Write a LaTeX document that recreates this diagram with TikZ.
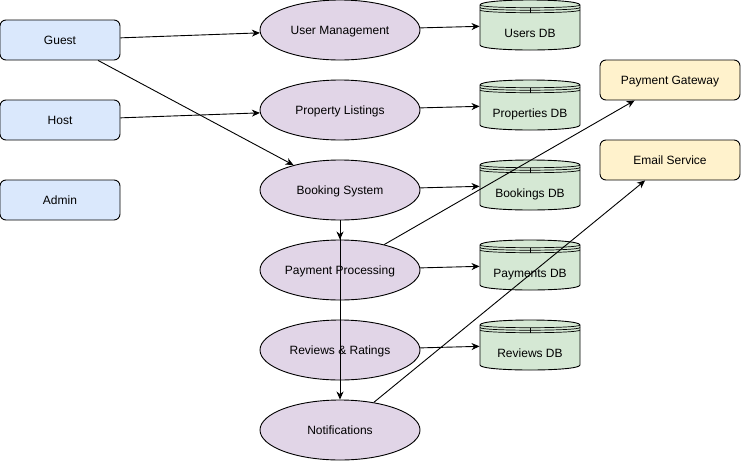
\documentclass[tikz,border=0pt]{standalone}
\usepackage{fontspec}
\setmainfont{Liberation Sans}
\usetikzlibrary{arrows.meta,shapes.geometric}

\definecolor{userblue}{HTML}{DAE8FC}
\definecolor{servicepurple}{HTML}{E1D5E7}
\definecolor{dbgreen}{HTML}{D5E8D4}
\definecolor{extyellow}{HTML}{FFF2CC}

% cylinder with a banded top: name, left, top, text
\newcommand{\datastore}[4]{%
	\begin{scope}[shift={(#2,-#3)}]
		\filldraw[dbshape] (0,-5) .. controls (0,5/3) and (100,5/3) .. (100,-5)
			-- (100,-45) .. controls (100,-51.67) and (0,-51.67) .. (0,-45) -- cycle;
		\draw[dbband] (0,-5) .. controls (0,-8.6) and (100,-8.6) .. (100,-5);
		\draw[dbband] (0,-7.5) .. controls (0,-11.1) and (100,-11.1) .. (100,-7.5);
		\draw[dbband] (0,-10) .. controls (0,-13.6) and (100,-13.6) .. (100,-10);
		\draw[dbband] (50,-7.7) -- (50,-12.7);
	\end{scope}
	\node [dbnode,label={[yshift=-8pt]center:#4}] (#1) at (#2+50,-#3-25) {};
}

\begin{document}
\begin{tikzpicture}[x=1pt, y=1pt, line width=0.9pt,
		font=\fontsize{12}{14}\selectfont,
		every node/.style={text depth=0pt},
		user/.style={rectangle,rounded corners=6pt,draw,fill=userblue,minimum width=120pt,minimum height=40pt,inner sep=0pt},
		service/.style={ellipse,draw,fill=servicepurple,minimum width=160pt,minimum height=60pt,inner sep=0pt,text depth=-1.5pt},
		external/.style={rectangle,rounded corners=6pt,draw,fill=extyellow,minimum width=140pt,minimum height=40pt,inner sep=0pt},
		dbshape/.style={draw,fill=dbgreen},
		dbband/.style={line width=0.7pt},
		dbnode/.style={rectangle,minimum width=100pt,minimum height=50pt,inner sep=0pt},
		flow/.style={-{Stealth[length=8pt,width=7pt,inset=2.5pt]}}
		]
	\useasboundingbox (0,0) rectangle (741,-461);

	\node [user] (guest) at (60,-40) {Guest};
	\node [user] (host) at (60,-120) {Host};
	\node [user] (admin) at (60,-200) {Admin};

	\node [service] (um) at (340,-30) {User Management};
	\node [service] (pl) at (340,-110) {Property Listings};
	\node [service] (bs) at (340,-190) {Booking System};
	\node [service] (pp) at (340,-270) {Payment Processing};
	\node [service] (rr) at (340,-350) {Reviews \& Ratings};
	\node [service] (nt) at (340,-430) {Notifications};

	\datastore{usersdb}{480}{0}{Users DB}
	\datastore{propertiesdb}{480}{80}{Properties DB}
	\datastore{bookingsdb}{480}{160}{Bookings DB}
	\datastore{paymentsdb}{480}{240}{Payments DB}
	\datastore{reviewsdb}{480}{320}{Reviews DB}

	\node [external] (gateway) at (670,-80) {Payment Gateway};
	\node [external] (email) at (670,-160) {Email Service};

	\draw [flow] (guest) -- (um);
	\draw [flow] (guest) -- (bs);
	\draw [flow] (host) -- (pl);
	\draw [flow] (um) -- (usersdb);
	\draw [flow] (pl) -- (propertiesdb);
	\draw [flow] (bs) -- (bookingsdb);
	\draw [flow] (pp) -- (paymentsdb);
	\draw [flow] (rr) -- (reviewsdb);
	\draw [flow] (bs) -- (pp);
	\draw [flow] (bs) -- (nt);
	\draw [flow] (pp) -- (gateway);
	\draw [flow] (nt) -- (email);
\end{tikzpicture}
\end{document}
